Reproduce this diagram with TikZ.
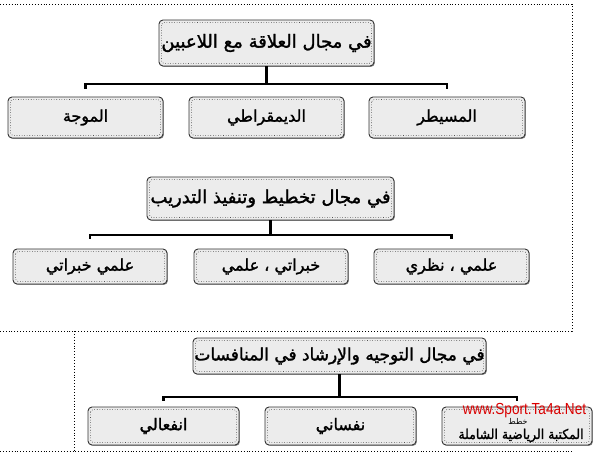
\documentclass[tikz,border=0pt]{standalone}
\usepackage{fontspec}
\usetikzlibrary{shadows}
\TeXXeTstate=1
\newfontfamily\arabicfont[Script=Arabic,FakeBold=1.6]{DejaVu Sans}
\newfontfamily\arabicthin[Script=Arabic]{DejaVu Sans}
\newfontfamily\latinfont{Liberation Sans}
\newcommand\artxt[1]{\beginR #1\endR}
\tikzset{
  nbox/.style={draw=black!80, line width=0.9pt, rounded corners=4pt, fill=gray!15,
    inner sep=0pt, align=center,
    drop shadow={shadow xshift=0.9pt, shadow yshift=-0.9pt, fill=black!55, opacity=0.8},
    path picture={\draw[black, line width=0.55pt, dotted, rounded corners=2.5pt]
      ([xshift=2.6pt,yshift=-2.6pt]path picture bounding box.north west) rectangle
      ([xshift=-2.6pt,yshift=2.6pt]path picture bounding box.south east);}},
  roottxt/.style={font=\arabicfont\fontsize{18}{20}\selectfont},
  kidtxt/.style={font=\arabicfont\fontsize{16}{18}\selectfont},
  conn/.style={draw=black, line width=2.4pt},
  frameline/.style={draw=black, line width=0.9pt, dotted}
}
\begin{document}
\begin{tikzpicture}[x=1pt,y=-1pt]
\useasboundingbox (0,0) rectangle (594,454);
% frames
\coordinate (f1a) at (0,4);
\coordinate (f1b) at (572,4);
\coordinate (f1c) at (572,331);
\coordinate (f1d) at (0,331);
\coordinate (f2a) at (74,331);
\coordinate (f2b) at (74,451);
\coordinate (f2c) at (0,451);
\coordinate (f2d) at (573,451);
\draw[frameline] (f1a) -- (f1b) -- (f1c) -- (f1d);
\draw[frameline] (f2a) -- (f2b);
\draw[frameline] (f2c) -- (f2d);

% row 1
\node[nbox, roottxt, minimum width=215pt, minimum height=46pt] (r1) at (266.5,43) {\artxt{في مجال العلاقة مع اللاعبين}};
\node[nbox, kidtxt, minimum width=155pt, minimum height=41pt] (c11) at (85.5,117.5) {\artxt{الموجة}};
\node[nbox, kidtxt, minimum width=155pt, minimum height=41pt] (c12) at (266.5,117.5) {\artxt{الديمقراطي}};
\node[nbox, kidtxt, minimum width=156pt, minimum height=41pt] (c13) at (447,117.5) {\artxt{المسيطر}};
\coordinate (bar1) at (266.5,84);
\draw[conn] (r1.south) -- (r1.south |- bar1);
\draw[conn] ([yshift=8pt]c11.north) -- (c11.north |- bar1) -- (c13.north |- bar1) -- ([yshift=8pt]c13.north);

% row 2
\node[nbox, roottxt, minimum width=247pt, minimum height=43pt] (r2) at (270.5,198.5) {\artxt{في مجال تخطيط وتنفيذ التدريب}};
\node[nbox, kidtxt, minimum width=154pt, minimum height=35pt] (c21) at (90,266.5) {\artxt{علمي خبراتي}};
\node[nbox, kidtxt, minimum width=154pt, minimum height=35pt] (c22) at (271,266.5) {\artxt{خبراتي ، علمي}};
\node[nbox, kidtxt, minimum width=155pt, minimum height=35pt] (c23) at (451.5,266.5) {\artxt{علمي ، نظري}};
\coordinate (bar2) at (270.5,235);
\draw[conn] (r2.south) -- (r2.south |- bar2);
\draw[conn] ([yshift=10pt]c21.north) -- (c21.north |- bar2) -- (c23.north |- bar2) -- ([yshift=10pt]c23.north);

% row 3
\node[nbox, roottxt, minimum width=293pt, minimum height=36pt, font=\arabicfont\fontsize{17}{19}\selectfont] (r3) at (339.5,356) {\artxt{في مجال التوجيه والإرشاد في المنافسات}};
\node[nbox, kidtxt, minimum width=151pt, minimum height=38pt] (c31) at (163.5,426) {\artxt{انفعالي}};
\node[nbox, kidtxt, minimum width=151pt, minimum height=38pt] (c32) at (340.5,426) {\artxt{نفساني}};
\node[nbox, kidtxt, minimum width=150pt, minimum height=38pt] (c33) at (517,426) {};
\coordinate (bar3) at (339.5,397);
\draw[conn] (r3.south) -- (r3.south |- bar3);
\draw[conn] ([yshift=6pt]c31.north) -- (c31.north |- bar3) -- (c33.north |- bar3) -- ([yshift=6pt]c33.north);

% watermark
\node[inner sep=0pt, text=red!85!black, font=\latinfont\fontsize{16}{17}\selectfont, xscale=0.85] (wm1) at (524.5,410.5) {www.Sport.Ta4a.Net};
\node[inner sep=0pt, font=\arabicthin\fontsize{8}{9}\selectfont] (wm3) at (518,421) {\artxt{خطط}};
\node[inner sep=0pt, font=\arabicfont\fontsize{13.5}{15}\selectfont, xscale=0.92] (wm2) at (521,435.5) {\artxt{المكتبة الرياضية الشاملة}};
\end{tikzpicture}
\end{document}
